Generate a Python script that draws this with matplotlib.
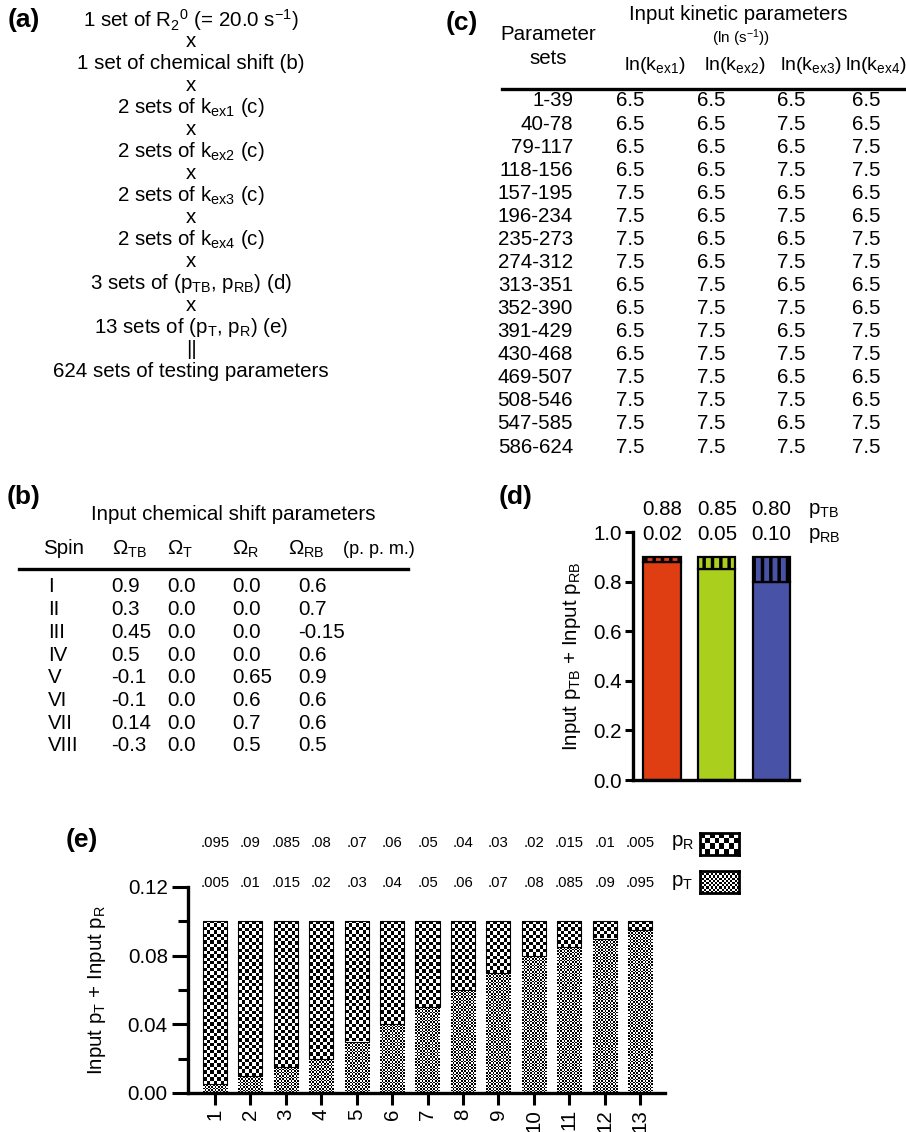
import matplotlib
matplotlib.use('Agg')
import matplotlib.pyplot as plt
import numpy as np
from matplotlib.lines import Line2D

# ---------------- data ----------------
a_lines = ['1 set of R$_2$$^0$ (= 20.0 s$^{-1}$)', 'x',
           '1 set of chemical shift (b)', 'x',
           '2 sets of k$_{ex1}$ (c)', 'x',
           '2 sets of k$_{ex2}$ (c)', 'x',
           '2 sets of k$_{ex3}$ (c)', 'x',
           '2 sets of k$_{ex4}$ (c)', 'x',
           '3 sets of (p$_{TB}$, p$_{RB}$) (d)', 'x',
           '13 sets of (p$_T$, p$_R$) (e)', '||',
           '624 sets of testing parameters']

b_header = ['Spin', 'Ω$_{TB}$', 'Ω$_T$', 'Ω$_R$', 'Ω$_{RB}$']
spins = ['I', 'II', 'III', 'IV', 'V', 'VI', 'VII', 'VIII']
omega_TB = ['0.9', '0.3', '0.45', '0.5', '-0.1', '-0.1', '0.14', '-0.3']
omega_T = ['0.0', '0.0', '0.0', '0.0', '0.0', '0.0', '0.0', '0.0']
omega_R = ['0.0', '0.0', '0.0', '0.0', '0.65', '0.6', '0.7', '0.5']
omega_RB = ['0.6', '0.7', '-0.15', '0.6', '0.9', '0.6', '0.6', '0.5']

c_header = ['ln(k$_{ex1}$)', 'ln(k$_{ex2}$)', 'ln(k$_{ex3}$)', 'ln(k$_{ex4}$)']
param_sets = ['1-39', '40-78', '79-117', '118-156', '157-195', '196-234',
              '235-273', '274-312', '313-351', '352-390', '391-429',
              '430-468', '469-507', '508-546', '547-585', '586-624']
ln_kex1 = [6.5, 6.5, 6.5, 6.5, 7.5, 7.5, 7.5, 7.5, 6.5, 6.5, 6.5, 6.5, 7.5, 7.5, 7.5, 7.5]
ln_kex2 = [6.5, 6.5, 6.5, 6.5, 6.5, 6.5, 6.5, 6.5, 7.5, 7.5, 7.5, 7.5, 7.5, 7.5, 7.5, 7.5]
ln_kex3 = [6.5, 7.5, 6.5, 7.5, 6.5, 7.5, 6.5, 7.5, 6.5, 7.5, 6.5, 7.5, 6.5, 7.5, 6.5, 7.5]
ln_kex4 = [6.5, 6.5, 7.5, 7.5, 6.5, 6.5, 7.5, 7.5, 6.5, 6.5, 7.5, 7.5, 6.5, 6.5, 7.5, 7.5]

p_TB = [0.88, 0.85, 0.80]
p_RB = [0.02, 0.05, 0.10]
d_colors = ['#DF3E13', '#ABCF1D', '#4853A8']

e_sets = list(range(1, 14))
p_T = [0.005, 0.01, 0.015, 0.02, 0.03, 0.04, 0.05, 0.06, 0.07, 0.08, 0.085, 0.09, 0.095]
p_R = [0.095, 0.09, 0.085, 0.08, 0.07, 0.06, 0.05, 0.04, 0.03, 0.02, 0.015, 0.01, 0.005]

# ---------------- setup ----------------
plt.rcParams['font.family'] = ['Liberation Sans', 'DejaVu Sans']
plt.rcParams['mathtext.default'] = 'regular'
plt.rcParams['hatch.linewidth'] = 2.5

W, H = 906, 1132
fig = plt.figure(figsize=(W / 100, H / 100), dpi=100)
FS = 14.8


def T(x, y, s, **kw):
    kw.setdefault('fontsize', FS)
    kw.setdefault('va', 'center')
    fig.text(x / W, 1 - y / H, s, **kw)


def HL(x0, x1, y, lw=2.4):
    fig.add_artist(Line2D([x0 / W, x1 / W], [1 - y / H, 1 - y / H], color='k',
                          lw=lw, transform=fig.transFigure))


def fmt_short(v):
    s = f'{v:g}'
    return s[1:] if s.startswith('0') else s


# panel labels
for lab, x, y in [('(a)', 24, 20), ('(c)', 462, 23), ('(b)', 24, 497),
                  ('(d)', 516, 497), ('(e)', 82, 840)]:
    T(x, y, lab, fontsize=19, fontweight='bold', ha='center')

# ---------------- (a) ----------------
for i, s in enumerate(a_lines):
    T(191, 20 + i * 21.94, s, ha='center')

# ---------------- (c) ----------------
T(738, 15, 'Input kinetic parameters', ha='center')
T(741, 38, '(ln (s$^{-1}$))', ha='center', fontsize=11)
T(548, 35, 'Parameter', ha='center')
T(548, 59, 'sets', ha='center')
for j, (s, xc) in enumerate(zip(c_header, [655, 735, 811, 876])):
    T(xc, 66, s, ha='center', fontsize=14)
HL(502, 906, 89)
c_cols = [ln_kex1, ln_kex2, ln_kex3, ln_kex4]
c_x = [616, 697, 777, 852]
for i, ps in enumerate(param_sets):
    y = 101 + i * 23.07
    T(573, y, ps, ha='right')
    for col, xc in zip(c_cols, c_x):
        T(xc, y, f'{col[i]:.1f}', ha='left')

# ---------------- (b) ----------------
T(233, 514, 'Input chemical shift parameters', ha='center')
for s, xc in zip(b_header, [43, 112, 167, 232, 288]):
    T(xc, 549, s, ha='left')
T(343, 549, '(p. p. m.)', ha='left', fontsize=13)
HL(19, 408, 569)
b_cols = [spins, omega_TB, omega_T, omega_R, omega_RB]
b_x = [48, 111, 167, 232, 298]
for i in range(len(spins)):
    y = 587 + i * 22.7
    for col, xc in zip(b_cols, b_x):
        T(xc, y, col[i], ha='left')

# ---------------- (d) ----------------
axd = fig.add_axes([633 / W, 1 - 780 / H, (799 - 633) / W, (780 - 532) / H])
xd = np.arange(len(p_TB))
axd.bar(xd, p_TB, width=0.68, color=d_colors, edgecolor='k', linewidth=1.6)
axd.bar(xd, p_RB, bottom=p_TB, width=0.68, color=d_colors, edgecolor='k',
        linewidth=1.6, hatch='||')
axd.set_xlim(-0.53, 2.5)
axd.set_ylim(0, 1.0)
axd.set_yticks(np.arange(0, 1.01, 0.2))
axd.set_yticklabels([f'{v:.1f}' for v in np.arange(0, 1.01, 0.2)], fontsize=FS)
axd.set_xticks([])
for sp in ['top', 'right']:
    axd.spines[sp].set_visible(False)
for sp in ['left', 'bottom']:
    axd.spines[sp].set_linewidth(2.4)
axd.tick_params(axis='y', length=6, width=2.2, pad=2)
axd.set_ylabel('Input p$_{TB}$ + Input p$_{RB}$', fontsize=FS)
axd.yaxis.set_label_coords(-0.30, 0.5)
for i in range(len(p_TB)):
    axd.text(xd[i], 1.09, f'{p_TB[i]:.2f}', ha='center', va='center', fontsize=FS, clip_on=False)
    axd.text(xd[i], 0.99, f'{p_RB[i]:.2f}', ha='center', va='center', fontsize=FS, clip_on=False)
axd.text(2.67, 1.085, 'p$_{TB}$', ha='left', va='center', fontsize=FS, clip_on=False)
axd.text(2.67, 0.985, 'p$_{RB}$', ha='left', va='center', fontsize=FS, clip_on=False)

# ---------------- (e) ----------------
axe = fig.add_axes([188 / W, 1 - 1093 / H, (665 - 188) / W, (1093 - 887) / H])
axe.set_xlim(0.237, 13.706)
axe.set_ylim(0, 0.12)
bw = 0.68
bars_T = axe.bar(e_sets, p_T, width=bw, color='none', edgecolor='none')
bars_R = axe.bar(e_sets, p_R, bottom=p_T, width=bw, color='none', edgecolor='none')


def checker(ny, nx):
    return (np.add.outer(np.arange(ny), np.arange(nx)) % 2).astype(float)


def fill_checker(ax, rect, cell_px):
    x0, y0 = rect.get_x(), rect.get_y()
    w, h = rect.get_width(), rect.get_height()
    p0 = ax.transData.transform((x0, y0))
    p1 = ax.transData.transform((x0 + w, y0 + h))
    nx = max(1, int(round((p1[0] - p0[0]) / cell_px)))
    ny = max(1, int(round((p1[1] - p0[1]) / cell_px)))
    im = ax.imshow(checker(ny, nx), extent=[x0, x0 + w, y0, y0 + h], cmap='gray',
                   vmin=0, vmax=1, interpolation='nearest', aspect='auto', zorder=2)
    im.set_clip_path(rect)


for r in bars_T:
    fill_checker(axe, r, 1.6)
for r in bars_R:
    fill_checker(axe, r, 3.4)
axe.bar(e_sets, p_R, bottom=p_T, width=bw, color='none', edgecolor='k', linewidth=0.8, zorder=3)
axe.set_xlim(0.237, 13.706)
axe.set_ylim(0, 0.12)

for sp in ['top', 'right']:
    axe.spines[sp].set_visible(False)
for sp in ['left', 'bottom']:
    axe.spines[sp].set_linewidth(2.4)
axe.set_yticks([0, 0.04, 0.08, 0.12])
axe.set_yticklabels(['0.00', '0.04', '0.08', '0.12'], fontsize=FS)
axe.set_yticks([0.02, 0.06, 0.10], minor=True)
axe.tick_params(axis='y', which='major', length=11.5, width=2.2, pad=3)
axe.tick_params(axis='y', which='minor', length=7, width=2.2)
axe.set_xticks(e_sets)
axe.set_xticklabels([str(v) for v in e_sets], rotation=90, fontsize=FS)
axe.tick_params(axis='x', length=8.5, width=2.2, pad=3)
axe.set_ylabel('Input p$_T$ + Input p$_R$', fontsize=FS)
axe.yaxis.set_label_coords(-0.168, 0.5)

for i, v in enumerate(e_sets):
    axe.text(v, 0.1456, fmt_short(p_R[i]), ha='center', va='center', fontsize=10.7, clip_on=False)
    axe.text(v, 0.1223, fmt_short(p_T[i]), ha='center', va='center', fontsize=10.7, clip_on=False)
T(671, 843, 'p$_R$', ha='left')
T(671, 883, 'p$_T$', ha='left')

for ytop, cell in [(833, 5.0), (871, 2.2)]:
    lax = fig.add_axes([700 / W, 1 - (ytop + 22) / H, 39 / W, 22 / H])
    nx = int(round(39 / cell))
    ny = int(round(22 / cell))
    lax.imshow(checker(ny, nx), cmap='gray', vmin=0, vmax=1,
               interpolation='nearest', aspect='auto')
    lax.set_xticks([])
    lax.set_yticks([])
    for sp in lax.spines.values():
        sp.set_linewidth(2.0)

fig.savefig('out.png', dpi=100)
